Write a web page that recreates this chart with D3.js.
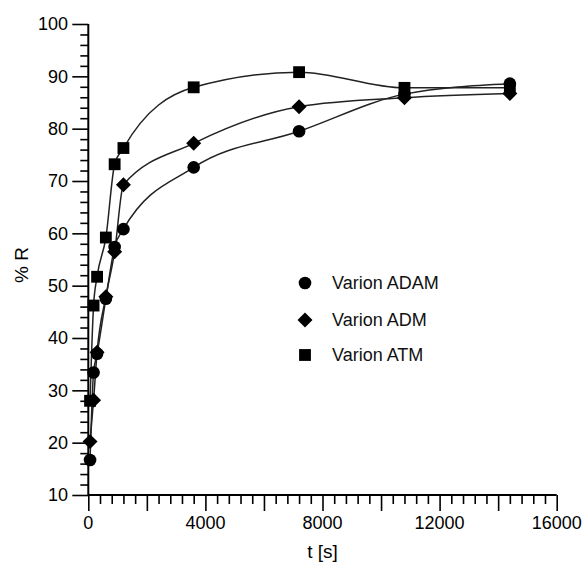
<!DOCTYPE html>
<html><head><meta charset="utf-8">
<script src="https://cdn.jsdelivr.net/npm/d3@7"></script>
<style>body{margin:0;background:#fff}svg{display:block}</style>
</head><body>
<script>
const times = [60, 180, 300, 600, 900, 1200, 3600, 7200, 10800, 14400];
const adam = [16.7, 33.4, 37.0, 47.5, 57.4, 60.8, 72.6, 79.5, 86.6, 88.6];
const adm  = [20.2, 28.1, 37.3, 47.9, 56.5, 69.3, 77.2, 84.2, 85.9, 86.7];
const atm  = [28.0, 46.2, 51.7, 59.2, 73.2, 76.3, 87.9, 90.8, 87.8, 87.8];
const seriesNames = ["Varion ADAM", "Varion ADM", "Varion ATM"];
const xTickLabels = [0, 4000, 8000, 12000, 16000];
const yTickLabels = [10, 20, 30, 40, 50, 60, 70, 80, 90, 100];

const W = 587, H = 569;
const svg = d3.select("body").append("svg").attr("width", W).attr("height", H);
const x = d3.scaleLinear().domain([0, 16000]).range([88.3, 556.7]);
const y = d3.scaleLinear().domain([10, 100]).range([495, 24]);
const font = "Liberation Sans, Arial, sans-serif";

// X axis
const gx = svg.append("g").attr("transform", `translate(0,${y(10)})`);
gx.call(d3.axisBottom(x).tickValues(d3.range(0, 16001, 400)).tickSize(9).tickFormat(""));
gx.selectAll(".tick line").attr("stroke-width", 1.6)
  .attr("y2", d => d % 2000 === 0 ? 16 : 9);
gx.select(".domain").attr("stroke-width", 2).attr("d", `M${x(0)},0H${x(16000)}`);
svg.selectAll(".xl").data(xTickLabels).enter().append("text").attr("class", "xl")
  .attr("x", d => x(d)).attr("y", 529).attr("text-anchor", "middle")
  .attr("font-family", font).attr("font-size", 18).attr("fill", "#000").text(d => d);

// Y axis
const gy = svg.append("g").attr("transform", `translate(${x(0)},0)`);
gy.call(d3.axisLeft(y).tickValues(d3.range(10, 100.1, 2)).tickSize(8).tickFormat(""));
gy.selectAll(".tick line").attr("stroke-width", 1.6)
  .attr("x2", d => Math.round(d) % 10 === 0 ? -16 : -8);
gy.select(".domain").attr("stroke-width", 2).attr("d", `M0,${y(100)}V${y(10)}`);
svg.selectAll(".yl").data(yTickLabels).enter().append("text").attr("class", "yl")
  .attr("x", 68).attr("y", d => y(d)).attr("dy", "0.36em").attr("text-anchor", "end")
  .attr("font-family", font).attr("font-size", 18).attr("fill", "#000").text(d => d);

// Axis titles
svg.append("text").attr("x", x(8000)).attr("y", 558).attr("text-anchor", "middle")
  .attr("font-family", font).attr("font-size", 19).text("t [s]");
svg.append("text").attr("transform", "translate(28,265) rotate(-90)").attr("text-anchor", "middle")
  .attr("font-family", font).attr("font-size", 19).text("% R");

const data = [adam, adm, atm];
const symbols = [d3.symbolCircle, d3.symbolSquare, d3.symbolSquare];
const sizes = [125, 112, 140];
const rot = [0, 45, 0];
const line = d3.line().x(d => x(d[0])).y(d => y(d[1])).curve(d3.curveMonotoneX);

data.forEach((vals, i) => {
  const pts = times.map((t, j) => [t, vals[j]]);
  svg.append("path").attr("d", line(pts)).attr("fill", "none")
    .attr("stroke", "#222").attr("stroke-width", 1.5);
});
data.forEach((vals, i) => {
  const pts = times.map((t, j) => [t, vals[j]]);
  svg.selectAll(null).data(pts).enter().append("path")
    .attr("d", d3.symbol().type(symbols[i]).size(sizes[i]))
    .attr("transform", d => `translate(${x(d[0])},${y(d[1])}) rotate(${rot[i]})`)
    .attr("fill", "#000");
});

// Legend
const legY = [283, 320, 355];
seriesNames.forEach((n, i) => {
  svg.append("path").attr("d", d3.symbol().type(symbols[i]).size(sizes[i])())
    .attr("transform", `translate(305,${legY[i]}) rotate(${rot[i]})`).attr("fill", "#000");
  svg.append("text").attr("x", 332).attr("y", legY[i]).attr("dy", "0.36em")
    .attr("font-family", font).attr("font-size", 18).attr("fill", "#111").text(n);
});
</script>
</body></html>
